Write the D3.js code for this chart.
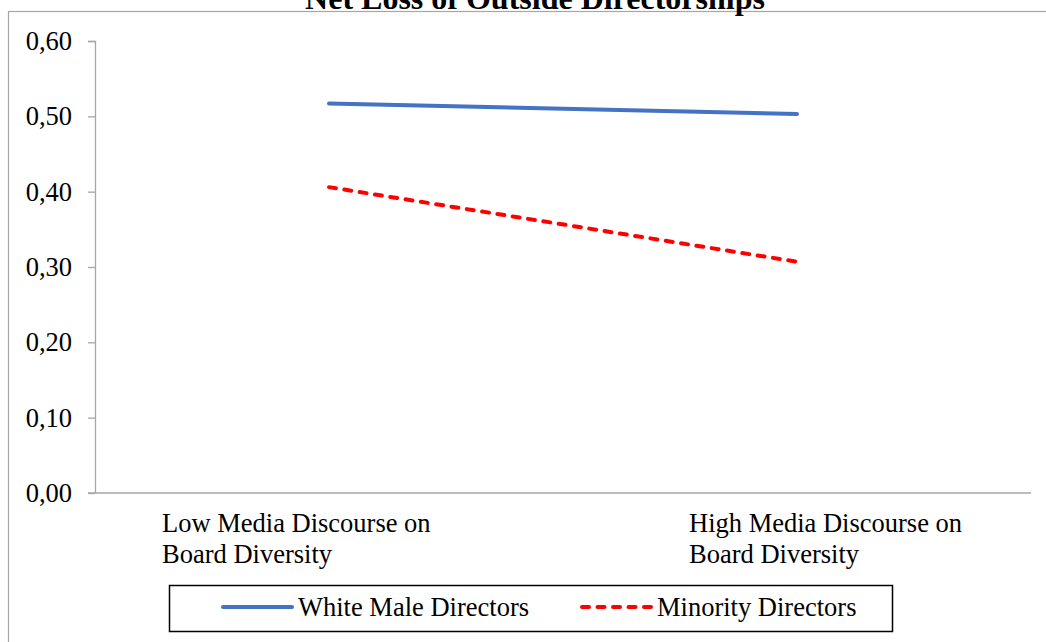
<!DOCTYPE html>
<html>
<head>
<meta charset="utf-8">
<script src="https://cdn.jsdelivr.net/npm/d3@7"></script>
<style>
  body { margin: 0; background: #fff; }
  svg { display: block; font-family: "Liberation Serif", "Times New Roman", serif; }
</style>
</head>
<body>
<svg id="chart" width="1046" height="642"></svg>
<script>
// data
const categories = ["Low Media Discourse on|Board Diversity", "High Media Discourse on|Board Diversity"]
const whiteMale = [0.517, 0.503]
const minority = [0.406, 0.307]
const yTicks = [0, 0.1, 0.2, 0.3, 0.4, 0.5, 0.6]
const seriesNames = ["White Male Directors", "Minority Directors"]

const svg = d3.select("#chart")
const margin = {left: 95, top: 41, right: 15, bottom: 149}
const width = 1046 - margin.left - margin.right
const height = 642 - margin.top - margin.bottom
const FS = 26.5
const DASH = "7,8.5"

// outer chart frame (runs past the window on right/bottom)
svg.append("rect")
    .attr("x", 8.5).attr("y", 11.5)
    .attr("width", 1100).attr("height", 700)
    .attr("fill", "none")
    .attr("stroke", "#a6a6a6")
    .attr("stroke-width", 1.2)

// title is cut by the top edge in the original too
svg.append("text")
    .text("Net Loss of Outside Directorships")
    .attr("x", 535).attr("y", 9)
    .attr("text-anchor", "middle")
    .attr("font-weight", "bold")
    .attr("font-size", 32)

const xScale = d3.scaleBand()
    .domain(categories)
    .range([0, width])

const yScale = d3.scaleLinear()
    .domain([0, 0.6])
    .range([height, 0])

const g = svg.append("g")
    .attr("transform", `translate(${margin.left}, ${margin.top})`)

// y axis
const yAxis = d3.axisLeft(yScale)
    .tickValues(yTicks)
    .tickSize(7)
    .tickPadding(16)
    .tickFormat(d => d3.format(".2f")(d).replace(".", ","))
const yg = g.append("g").call(yAxis)
yg.select(".domain").attr("stroke", "#a6a6a6").attr("stroke-width", 1.3)
    .attr("d", `M-7,0.5H0.5V${height}`)
yg.selectAll(".tick line").attr("stroke", "#a6a6a6").attr("stroke-width", 1.3)
yg.selectAll(".tick text")
    .attr("font-family", "Liberation Serif, Times New Roman, serif")
    .attr("font-size", FS).attr("fill", "#000")

// x axis line
g.append("line")
    .attr("x1", -7).attr("x2", width)
    .attr("y1", height).attr("y2", height)
    .attr("stroke", "#a6a6a6").attr("stroke-width", 1.3)

// category labels, two lines, left aligned inside their band
const labelIndent = [67, 126]
categories.forEach((c, k) => {
    const lines = c.split("|")
    const t = g.append("text")
        .attr("font-size", FS)
        .attr("y", height + 39)
    lines.forEach((l, i) => {
        t.append("tspan")
            .attr("x", xScale(c) + labelIndent[k])
            .attr("dy", i === 0 ? 0 : 31)
            .text(l)
    })
})

const line = d3.line()
    .x((d, i) => xScale(categories[i]) + xScale.bandwidth() / 2)
    .y(d => yScale(d))

g.append("path")
    .datum(whiteMale)
    .attr("fill", "none")
    .attr("stroke", "#4472c4")
    .attr("stroke-width", 4)
    .attr("stroke-linecap", "round")
    .attr("d", line)

g.append("path")
    .datum(minority)
    .attr("fill", "none")
    .attr("stroke", "#ff0000")
    .attr("stroke-width", 4)
    .attr("stroke-linecap", "round")
    .attr("stroke-dasharray", DASH)
    .attr("d", line)

// legend
const lg = svg.append("g")
lg.append("rect")
    .attr("x", 169.5).attr("y", 585.5)
    .attr("width", 723).attr("height", 46)
    .attr("fill", "#fff")
    .attr("stroke", "#000")
    .attr("stroke-width", 1.5)

const legendItems = [
    {name: seriesNames[0], color: "#4472c4", dash: null, x: 223},
    {name: seriesNames[1], color: "#ff0000", dash: DASH, x: 582}
]
legendItems.forEach(d => {
    lg.append("line")
        .attr("x1", d.x).attr("x2", d.x + 69)
        .attr("y1", 607).attr("y2", 607)
        .attr("stroke", d.color)
        .attr("stroke-width", 4)
        .attr("stroke-linecap", "round")
        .attr("stroke-dasharray", d.dash)
    lg.append("text")
        .text(d.name)
        .attr("x", d.x + 75).attr("y", 616)
        .attr("font-size", FS)
})
</script>
</body>
</html>
